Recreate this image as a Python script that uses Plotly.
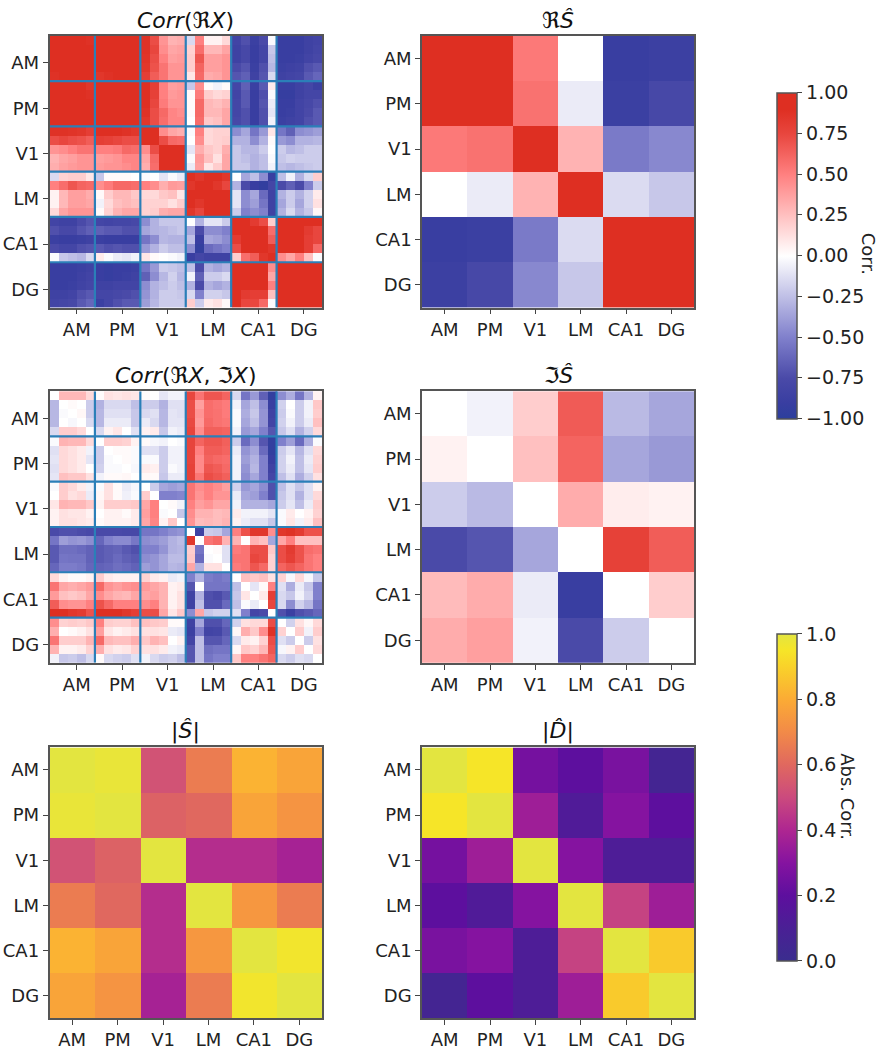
import numpy as np
import plotly.graph_objects as go

regions = ["AM", "PM", "V1", "LM", "CA1", "DG"]
corr_ticks = [-1, -0.75, -0.5, -0.25, 0, 0.25, 0.5, 0.75, 1]
abs_ticks = [0, 0.2, 0.4, 0.6, 0.8, 1.0]

# Upper triangle of Corr(ReX), row by row, starting at the diagonal
re_x_upper = [
    [1,.98,.97,.92,.88, .97,.97,.95,.93,.9, .88,.72,.42,.3,.32, -.15,.5,.05,.05,.15, -.82,-.72,-.88,-.75,-.02, -.9,-.9,-.9,-.85,-.82],
    [1,.98,.93,.9, .98,.98,.96,.95,.92, .88,.75,.45,.35,.37, .18,.58,.28,.28,.36, -.85,-.78,-.9,-.8,-.22, -.9,-.9,-.9,-.85,-.8],
    [1,.95,.92, .97,.98,.97,.95,.93, .87,.72,.5,.38,.4, .2,.68,.38,.38,.42, -.85,-.78,-.9,-.8,-.25, -.9,-.9,-.88,-.82,-.78],
    [1,.96, .9,.93,.95,.96,.95, .85,.7,.55,.42,.42, .2,.62,.38,.38,.42, -.75,-.7,-.88,-.72,-.28, -.88,-.86,-.84,-.72,-.68],
    [1, .85,.88,.9,.93,.92, .8,.65,.55,.42,.42, .1,.6,.33,.35,.42, -.7,-.65,-.85,-.7,-.15, -.85,-.82,-.8,-.68,-.62],
    [1,.99,.97,.93,.9, .95,.8,.5,.38,.4, -.22,.45,.02,-.05,.02, -.8,-.65,-.88,-.68,.08, -.9,-.9,-.85,-.8,-.88],
    [1,.98,.95,.92, .92,.78,.5,.4,.42, .02,.52,.2,.15,.18, -.82,-.68,-.9,-.72,-.02, -.92,-.92,-.85,-.8,-.8],
    [1,.97,.95, .9,.75,.52,.42,.42, .02,.6,.28,.25,.3, -.8,-.68,-.9,-.7,-.08, -.9,-.9,-.82,-.78,-.72],
    [1,.97, .88,.72,.6,.48,.45, .02,.6,.28,.28,.35, -.8,-.72,-.9,-.72,-.1, -.9,-.88,-.82,-.75,-.68],
    [1, .85,.72,.58,.48,.48, .0,.58,.22,.25,.35, -.78,-.72,-.9,-.72,-.05, -.88,-.85,-.82,-.72,-.68],
    [1,.98,.45,.35,.32, -.02,.5,.15,.18,.18, -.45,-.35,-.55,-.4,.1, -.55,-.65,-.45,-.42,-.38],
    [1,.72,.6,.58, .0,.45,.15,.18,.2, -.3,-.3,-.45,-.3,.02, -.4,-.45,-.3,-.3,-.28],
    [1,.98,.98, -.1,.32,.22,.18,.32, -.22,-.28,-.28,-.2,.0, -.2,-.28,-.25,-.2,-.2],
    [1,1, -.02,.4,.25,.12,.35, -.22,-.25,-.3,-.25,-.02, -.22,-.18,-.2,-.2,-.2],
    [1, -.08,.38,.1,.2,.35, -.22,-.22,-.3,-.25,-.05, -.25,-.28,-.25,-.22,-.2],
    [1,.85,.95,.95,.85, .0,-.35,-.25,-.45,-.9, -.25,-.05,-.3,-.15,.2],
    [1,.92,.85,.75, -.3,-.75,-.9,-.95,-.8, -.75,-.65,-.75,-.5,-.2],
    [1,.98,.95, -.1,-.45,-.35,-.6,-.85, -.3,-.2,-.3,-.18,.08],
    [1,.95, -.1,-.45,-.38,-.55,-.85, -.35,-.2,-.35,-.18,.12],
    [1, -.2,-.5,-.45,-.5,-.85, -.3,-.15,-.3,-.22,.03],
    [1,.95,.82,.72,.2, .95,.9,.95,.95,.97],
    [1,.95,.92,.58, .95,.95,.92,.82,.75],
    [1,.95,.65, .95,.95,.95,.8,.75],
    [1,.85, .95,.95,.95,.8,.6],
    [1, .45,.35,.5,.25,-.02],
    [1,.98,.97,.95,.93],
    [1,.98,.95,.93],
    [1,.97,.95],
    [1,.95],
    [1],
]

# Upper triangle of Corr(ReX, ImX), row by row, starting right of the diagonal
cross_upper = [
    [.28,.28,.28,.15, .02,.12,.1,.12,.1, .02,.0,-.1,-.05,-.05, .75,.55,.68,.68,.62, -.15,-.55,-.4,-.65,-.95, -.45,-.32,-.55,-.3,.05],
    [.02,.0,-.2, -.3,-.15,-.15,-.15,-.25, -.2,-.2,-.3,-.12,-.12, .72,.38,.58,.55,.52, -.05,-.35,-.25,-.45,-.9, -.18,.0,-.2,-.05,.22],
    [.03,-.2, -.28,-.12,-.12,-.12,-.22, -.15,-.12,-.28,-.1,-.12, .72,.42,.58,.56,.52, -.02,-.32,-.22,-.42,-.85, -.2,-.02,-.2,-.05,.2],
    [-.15, -.28,-.08,-.08,-.08,-.22, -.08,-.15,-.28,-.1,-.1, .74,.4,.6,.56,.54, -.02,-.35,-.25,-.42,-.82, -.18,-.05,-.2,-.08,.25],
    [-.15,.05,.1,.0,-.12, .05,.08,-.22,-.05,-.08, .76,.45,.64,.64,.62, -.05,-.4,-.35,-.5,-.7, -.22,-.12,-.3,-.18,.15],
    [.2,.2,.18,.05, .02,-.03,-.05,.0,-.02, .76,.62,.68,.68,.64, -.2,-.6,-.45,-.7,-.95, -.5,-.38,-.6,-.32,-.02],
    [.02,.02,-.02, -.12,-.12,-.2,-.05,-.05, .76,.5,.65,.65,.62, -.08,-.42,-.35,-.6,-.95, -.2,-.1,-.28,-.12,.15],
    [.02,-.02, -.02,-.02,-.2,-.05,-.05, .76,.46,.63,.6,.58, -.05,-.38,-.3,-.5,-.9, -.18,-.05,-.25,-.08,.18],
    [-.03, .08,.06,-.2,-.02,-.05, .78,.46,.68,.65,.6, -.05,-.42,-.28,-.5,-.85, -.18,-.08,-.25,-.1,.2],
    [.03,.02,-.22,-.08,-.08, .78,.54,.72,.68,.64, -.05,-.45,-.35,-.5,-.8, -.25,-.12,-.32,-.18,.12],
    [-.2,-.35,-.38,-.35, .55,.45,.5,.45,.38, -.18,-.4,-.35,-.45,-.72, -.25,-.12,-.22,-.12,.05],
    [-.5,-.5,-.48, .55,.42,.5,.42,.42, -.08,-.35,-.38,-.5,-.72, -.22,-.12,-.3,-.12,.15],
    [.02,-.05, .5,.38,.42,.35,.35, -.05,-.3,-.3,-.3,-.35, -.2,-.1,-.25,-.08,.2],
    [-.22, .45,.3,.3,.26,.28, .08,-.05,-.05,-.05,-.1, -.02,.08,.0,.05,.18],
    [.42,.26,.28,.26,.3, .05,-.08,-.12,-.12,-.22, -.02,.1,-.05,.08,.25],
    [-.85,-.2,-.22,-.35, .5,.7,.85,.85,.45, .85,.88,.82,.7,.7],
    [.55,.6,.3, .3,.0,.3,.25,-.35, .35,.5,.25,.25,.25],
    [.02,-.12, .52,.55,.72,.72,.22, .72,.82,.7,.58,.55],
    [-.12, .55,.55,.75,.72,.18, .72,.8,.7,.55,.5],
    [.52,.55,.68,.6,.18, .62,.68,.62,.55,.5],
    [.25,.22,.25,.12, .18,-.03,.15,-.03,-.22],
    [-.1,.02,.5, -.12,-.32,-.08,-.22,-.5],
    [.08,.8, -.15,-.22,-.05,-.18,-.5],
    [.75, -.15,-.45,-.18,-.28,-.55],
    [-.72,-.88,-.72,-.68,-.62],
    [-.18,.12,.03,.15],
    [.2,-.05,.2],
    [-.2,.12],
    [.15],
]

re_s = [
    [.97,.96,.53,.0,-.9,-.87],
    [.96,.97,.56,-.08,-.88,-.78],
    [.53,.56,.95,.3,-.53,-.47],
    [.0,-.08,.3,.95,-.14,-.22],
    [-.9,-.88,-.53,-.14,.95,.95],
    [-.87,-.78,-.47,-.22,.95,.95],
]
im_s = [
    [0,-.05,.2,.66,-.27,-.35],
    [.05,0,.25,.62,-.35,-.4],
    [-.2,-.27,0,.33,.07,.05],
    [-.75,-.7,-.35,0,.78,.65],
    [.27,.33,-.08,-.9,0,.2],
    [.33,.38,-.05,-.75,-.2,0],
]
abs_s = [
    [1,.985,.53,.66,.82,.78],
    [.985,1,.58,.6,.78,.73],
    [.53,.58,1,.42,.42,.38],
    [.66,.6,.42,1,.74,.66],
    [.82,.78,.42,.74,1,.96],
    [.78,.73,.38,.66,.96,1],
]
abs_d = [
    [1,.95,.26,.2,.27,.06],
    [.95,1,.36,.13,.3,.2],
    [.26,.36,1,.3,.12,.12],
    [.2,.13,.3,1,.48,.36],
    [.27,.3,.12,.48,1,.88],
    [.06,.2,.12,.36,.88,1],
]

corr_scale = [[0, "#2c3f9c"], [0.05, "#393ea1"], [0.125, "#4a4aa8"], [0.25, "#8080cc"], [0.375, "#bfbfe6"],
              [0.5, "#ffffff"], [0.625, "#ffc0c0"], [0.75, "#ff8080"], [0.875, "#e8463e"], [0.95, "#de2f22"], [1, "#de2f22"]]
abs_scale = [[0, "#3a2d8e"], [0.1, "#4a2095"], [0.2, "#5d0f9e"], [0.3, "#8513a0"], [0.4, "#ae2691"],
             [0.5, "#cb4a7e"], [0.6, "#e0685f"], [0.7, "#f28a48"], [0.8, "#fbab35"], [0.9, "#f9d22a"],
             [0.95, "#f6e528"], [1, "#e3e540"]]


def from_upper(rows, sign, start):
    n = len(regions) * 5
    m = np.zeros((n, n))
    for i, row in enumerate(rows):
        assert len(row) == n - i - start, (i, len(row))
        for k, v in enumerate(row):
            j = i + start + k
            m[i, j] = v
            if j != i:
                m[j, i] = sign * v
    return m


re_x = from_upper(re_x_upper, 1, 0)
cross = from_upper(cross_upper, -1, 1)

W, H = 879, 1050
panels = [
    (re_x, "<i>Corr</i>(ℜ<i>X</i>)", 49.5, 322, 36, 309, "coloraxis", True),
    (re_s, "ℜ<i>Ŝ</i>", 422, 694, 36, 309, "coloraxis", False),
    (cross, "<i>Corr</i>(ℜ<i>X</i>, ℑ<i>X</i>)", 49.5, 322, 393, 666, "coloraxis", True),
    (im_s, "ℑ<i>Ŝ</i>", 422, 694, 393, 666, "coloraxis", False),
    (abs_s, "|<i>Ŝ</i>|", 49.5, 322, 751, 1023, "coloraxis2", False),
    (abs_d, "|<i>D̂</i>|", 422, 694, 751, 1023, "coloraxis2", False),
]

FONT = "DejaVu Sans"
INK = "#222222"
fig = go.Figure()
layout = {}
anns = []
for idx, (z, title, x0, x1, y0, y1, cax, fine) in enumerate(panels, 1):
    z = np.asarray(z, dtype=float)
    n = z.shape[0]
    step = n // len(regions)
    xa, ya = f"x{idx}", f"y{idx}"
    fig.add_trace(go.Heatmap(z=z, x=list(range(n)), y=list(range(n)), coloraxis=cax, xaxis=xa, yaxis=ya,
                             zsmooth=False, showscale=False, xgap=0, ygap=0))
    if fine:
        edges = [step * k - 0.5 for k in range(1, len(regions))]
        lo, hi = -0.5, n - 0.5
        lx, ly = [], []
        for e in edges:
            lx += [e, e, None, lo, hi, None]
            ly += [lo, hi, None, e, e, None]
        fig.add_trace(go.Scatter(x=lx, y=ly, mode="lines", line=dict(color="#2b7fb8", width=2.2), xaxis=xa, yaxis=ya,
                                 showlegend=False, hoverinfo="skip"))
        tv = [step * k + step / 2 for k in range(len(regions))]
    else:
        tv = list(range(len(regions)))
    common = dict(showgrid=False, zeroline=False, showline=True, mirror=True, linecolor="#555555", linewidth=1.5,
                  ticks="outside", ticklen=5, tickcolor="#444444", tickwidth=1.2, tickvals=tv, ticktext=regions,
                  tickfont=dict(family=FONT, size=18, color=INK))
    sx = "xaxis" if idx == 1 else f"xaxis{idx}"
    sy = "yaxis" if idx == 1 else f"yaxis{idx}"
    layout[sx] = dict(domain=[x0 / W, x1 / W], range=[-0.5, n - 0.5], anchor=ya, **common)
    layout[sy] = dict(domain=[1 - y1 / H, 1 - y0 / H], range=[n - 0.5, -0.5], anchor=xa, **common)
    anns.append(dict(text=title, x=(x0 + x1) / 2 / W, y=1 - (y0 - 1) / H, xref="paper", yref="paper", xanchor="center",
                     yanchor="bottom", showarrow=False, font=dict(family=FONT, size=22, color="#111111")))

anns.append(dict(text="Corr.", x=868 / W, y=1 - 255 / H, xref="paper", yref="paper", xanchor="center", yanchor="middle",
                 textangle=90, showarrow=False, font=dict(family=FONT, size=18, color=INK)))
anns.append(dict(text="Abs. Corr.", x=848 / W, y=1 - 800 / H, xref="paper", yref="paper", xanchor="center", yanchor="middle",
                 textangle=90, showarrow=False, font=dict(family=FONT, size=18, color=INK)))

cbar = dict(thickness=20, thicknessmode="pixels", lenmode="pixels", xanchor="left", yanchor="top", xpad=0, ypad=0,
            ticks="outside", ticklen=5, tickcolor="#444444", outlinecolor="#555555", outlinewidth=1.5,
            tickfont=dict(family=FONT, size=19, color=INK), x=777 / W)
fig.update_layout(
    width=W, height=H, margin=dict(l=0, r=0, t=0, b=0), paper_bgcolor="white", plot_bgcolor="white",
    showlegend=False, annotations=anns,
    coloraxis=dict(cmin=-1, cmax=1, colorscale=corr_scale,
                   colorbar=dict(cbar, len=326, y=1 - 93 / H, tickvals=corr_ticks, tickformat=".2f")),
    coloraxis2=dict(cmin=0, cmax=1, colorscale=abs_scale,
                    colorbar=dict(cbar, len=327, y=1 - 637 / H, tickvals=abs_ticks, tickformat=".1f")),
    **layout,
)
fig.write_html("out.html", config={"displayModeBar": False}, post_script="document.body.style.margin='0';")
